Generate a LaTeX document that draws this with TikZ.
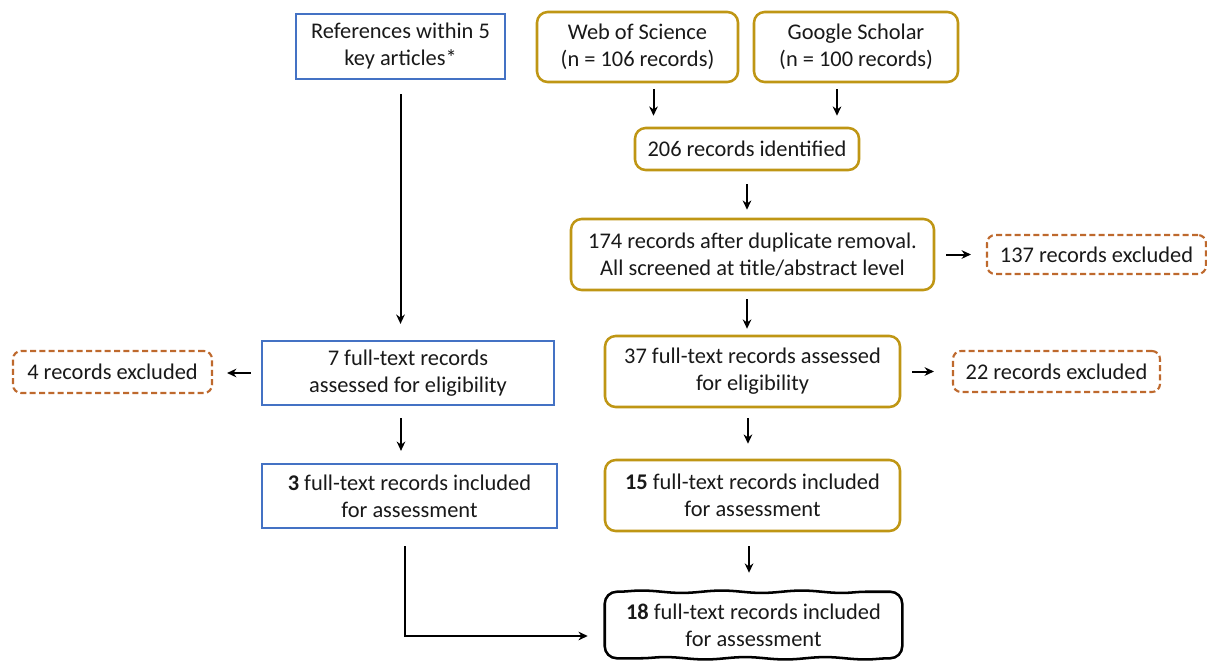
\documentclass[tikz,border=0pt]{standalone}
\usepackage{fontspec}
\setmainfont{Carlito}
\usepackage{xcolor}
\usepackage{tikz}
\usetikzlibrary{
    arrows.meta,
    positioning,
    calc,
    decorations.pathmorphing
}

\definecolor{refblue}{RGB}{68,114,196}
\definecolor{dbgold}{RGB}{191,150,20}
\definecolor{exclbrown}{RGB}{190,105,45}
\definecolor{txtgray}{RGB}{25,25,25}

\begin{document}
\begin{tikzpicture}[
    x=0.75pt, y=-0.75pt,
    every node/.style={
        font=\fontsize{16.8}{20.25}\selectfont,
        text=txtgray,
        align=center,
        inner sep=0pt
    },
    refbox/.style={
        rectangle,
        draw=refblue,
        line width=1.7pt,
        fill=white
    },
    dbbox/.style={
        rectangle,
        draw=dbgold,
        line width=1.9pt,
        rounded corners=8pt,
        fill=white
    },
    exclbox/.style={
        rectangle,
        draw=exclbrown,
        line width=1.6pt,
        dash pattern=on 4.5pt off 2.5pt,
        rounded corners=6pt
    },
    finalbox/.style={
        rectangle
    },
    wavy/.style={
        decoration={snake, segment length=60pt, amplitude=0.9pt}
    },
    arrow/.style={-{Stealth[length=7pt, width=6.5pt]}, line width=1.5pt}
]

\useasboundingbox (0,0) rectangle (1207,661);

% Reference list route (left)
\node[refbox, minimum width=156.75pt, minimum height=48.75pt] (refs) at (400.5, 46.5)
    {References within 5\\key articles*};
\node[refbox, minimum width=219pt, minimum height=48pt] (refelig) at (408, 373)
    {7 full-text records\\assessed for eligibility};
\node[refbox, minimum width=221.25pt, minimum height=48pt] (refinc) at (409.5, 496)
    {\textbf{3} full-text records included\\for assessment};
\node[exclbox, minimum width=149.25pt, minimum height=31.5pt] (exclc) at (112.5, 372)
    {4 records excluded};

% Database search route (right)
\node[dbbox, minimum width=150.75pt, minimum height=52.5pt] (wos) at (637.5, 47)
    {Web of Science\\(n = 106 records)};
\node[dbbox, minimum width=153pt, minimum height=52.5pt] (gs) at (856, 47)
    {Google Scholar\\(n = 100 records)};
\node[dbbox, minimum width=168pt, minimum height=31.5pt] (idn) at (747, 149)
    {206 records identified};
\node[dbbox, minimum width=272.25pt, minimum height=53.25pt] (dedup) at (752.5, 254.5)
    {174 records after duplicate removal.\\All screened at title/abstract level};
\node[exclbox, minimum width=164.25pt, minimum height=29.25pt] (excla) at (1096.5, 254.5)
    {137 records excluded};
\node[dbbox, minimum width=221.25pt, minimum height=53.25pt] (elig) at (752.5, 371.5)
    {37 full-text records assessed\\for eligibility};
\node[exclbox, minimum width=155.25pt, minimum height=30.75pt] (exclb) at (1056.5, 371.5)
    {22 records excluded};
\node[dbbox, minimum width=221.25pt, minimum height=53.25pt] (dbinc) at (752.5, 495.5)
    {\textbf{15} full-text records included\\for assessment};

% Final set (hand-drawn look)
\node[finalbox, minimum width=222.75pt, minimum height=49.5pt] (final) at (753.5, 625)
    {\textbf{18} full-text records included\\for assessment};
\draw[line width=1.9pt, wavy]
    ([xshift=9pt]final.north west)
    decorate {-- ([xshift=-9pt]final.north east)}
    to[out=0, in=90] ([yshift=-9pt]final.north east)
    decorate {-- ([yshift=9pt]final.south east)}
    to[out=-90, in=0] ([xshift=-9pt]final.south east)
    decorate {-- ([xshift=9pt]final.south west)}
    to[out=180, in=-90] ([yshift=9pt]final.south west)
    decorate {-- ([yshift=-9pt]final.north west)}
    to[out=90, in=180] ([xshift=9pt]final.north west);

% Arrows
\draw[arrow, shorten <=4.5pt, shorten >=8.25pt] ([xshift=12pt]wos.south) -- ([xshift=12pt]wos.south |- idn.north);
\draw[arrow, shorten <=4.5pt, shorten >=8.25pt] ([xshift=-14.25pt]gs.south) -- ([xshift=-14.25pt]gs.south |- idn.north);
\draw[arrow, shorten <=9.75pt, shorten >=6pt] (idn.south) -- (idn.south |- dedup.north);
\draw[arrow, shorten <=6pt, shorten >=4.5pt] ([xshift=-4.1pt]dedup.south) -- ([xshift=-4.1pt]dedup.south |- elig.north);
\draw[arrow, shorten <=7.5pt, shorten >=11.25pt] ([xshift=-3.4pt]elig.south) -- ([xshift=-3.4pt]elig.south |- dbinc.north);
\draw[arrow, shorten <=10.5pt, shorten >=14.25pt] ([xshift=-2.6pt]dbinc.south) -- ([xshift=-2.6pt]dbinc.south |- final.north);
\draw[arrow, shorten <=8.25pt, shorten >=11.25pt] (dedup.east) -- (dedup.east -| excla.west);
\draw[arrow, shorten <=8.25pt, shorten >=13.5pt] (elig.east) -- (elig.east -| exclb.west);
\draw[arrow, shorten <=7.5pt, shorten >=10.5pt] (refelig.west) -- (refelig.west -| exclc.east);
\draw[arrow, shorten <=10.5pt, shorten >=12pt] (refs.south) -- (refs.south |- refelig.north);
\draw[arrow, shorten <=9pt, shorten >=9pt] ([xshift=-5.25pt]refelig.south) -- ([xshift=-5.25pt]refelig.south |- refinc.north);
\draw[arrow, shorten <=12.75pt, shorten >=12.75pt] ([xshift=-3.4pt]refinc.south) |- ([yshift=-8.25pt]final.west);

\end{tikzpicture}
\end{document}
